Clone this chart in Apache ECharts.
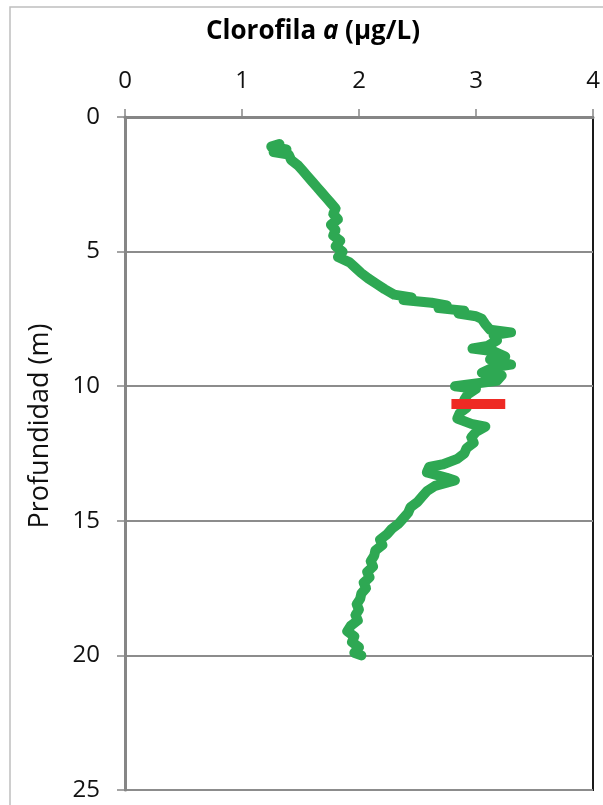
<!DOCTYPE html>
<html>
<head>
<meta charset="utf-8">
<script src="https://cdn.jsdelivr.net/npm/echarts@6/dist/echarts.min.js"></script>
<style>
  html, body { margin: 0; padding: 0; background: #fff; }
  #chart { width: 603px; height: 805px; }
</style>
</head>
<body>
<div id="chart"></div>
<script>
// depth (m) and chlorophyll a (ug/L)
const depth = [
  1.0, 1.1, 1.2, 1.3, 1.4, 1.6, 1.8, 2.0, 2.2, 2.4, 2.6, 2.8, 3.0, 3.2, 3.4, 3.6, 3.8, 4.0,
  4.2, 4.4, 4.6, 4.8, 5.0, 5.2, 5.4, 5.6, 5.8, 6.0, 6.2, 6.4, 6.6, 6.7, 6.8, 6.9, 7.0, 7.1,
  7.2, 7.3, 7.4, 7.5, 7.7, 7.9, 8.0, 8.1, 8.3, 8.5, 8.6, 8.7, 8.9, 9.0, 9.2, 9.3, 9.5, 9.6,
  9.8, 10.0, 10.1, 10.3, 10.5, 10.8, 11.0, 11.2, 11.4, 11.5, 11.7, 11.9, 12.1, 12.3, 12.5,
  12.7, 12.9, 13.0, 13.2, 13.4, 13.5, 13.7, 13.9, 14.1, 14.3, 14.5, 14.7, 14.9, 15.1, 15.3,
  15.5, 15.7, 15.9, 16.1, 16.3, 16.5, 16.7, 16.9, 17.1, 17.3, 17.5, 17.7, 17.9, 18.1, 18.3,
  18.5, 18.7, 18.9, 19.1, 19.3, 19.5, 19.7, 19.9, 20.0
];
const chla = [
  1.32, 1.25, 1.38, 1.27, 1.40, 1.42, 1.48, 1.52, 1.56, 1.60, 1.64, 1.68, 1.72, 1.76, 1.80, 1.78, 1.82, 1.76,
  1.80, 1.78, 1.84, 1.80, 1.86, 1.82, 1.92, 1.97, 2.02, 2.08, 2.15, 2.22, 2.30, 2.45, 2.38, 2.62, 2.75, 2.68,
  2.90, 2.85, 3.00, 3.05, 3.08, 3.12, 3.30, 3.15, 3.18, 3.10, 2.97, 3.15, 3.25, 3.12, 3.30, 3.15, 3.05, 3.22,
  3.18, 2.82, 3.00, 2.93, 2.90, 2.92, 2.86, 2.84, 2.96, 3.08, 3.00, 2.96, 2.98, 2.92, 2.90,
  2.84, 2.72, 2.60, 2.58, 2.75, 2.82, 2.65, 2.58, 2.54, 2.50, 2.44, 2.42, 2.38, 2.34, 2.28,
  2.24, 2.18, 2.20, 2.14, 2.13, 2.10, 2.12, 2.07, 2.09, 2.04, 2.06, 2.02, 2.01, 1.98, 2.00,
  1.97, 1.99, 1.93, 1.90, 1.96, 1.94, 2.00, 1.96, 2.02
];
// red marker: depth and chl range
const markDepth = 10.66;
const markRange = [2.79, 3.25];

const xTicks = [0, 1, 2, 3, 4];
const yTicks = [0, 5, 10, 15, 20, 25];

const profile = depth.map((d, i) => [chla[i], d]);
const marker = markRange.map(v => [v, markDepth]);

const labelFont = { fontFamily: 'Open Sans', fontSize: 24, color: '#111' };

const chart = echarts.init(document.getElementById('chart'));
chart.setOption({
  animation: false,
  title: {
    text: '{a|Clorofila }{b|a}{a| (µg/L)}',
    left: 201,
    top: 14,
    textStyle: {
      rich: {
        a: { fontFamily: 'Open Sans', fontWeight: 'bold', fontSize: 26, color: '#000' },
        b: { fontFamily: 'Open Sans', fontWeight: 'bold', fontStyle: 'italic', fontSize: 26, color: '#000' }
      }
    }
  },
  graphic: [
    {
      type: 'rect',
      shape: { x: 10, y: 7, width: 700, height: 900 },
      style: { fill: null, stroke: '#bfbfbf', lineWidth: 1.5 },
      z: -10
    },
    {
      type: 'text',
      x: 40,
      y: 426,
      rotation: Math.PI / 2,
      style: {
        text: 'Profundidad (m)',
        fontFamily: 'Open Sans',
        fontSize: 27,
        fill: '#111',
        align: 'center',
        verticalAlign: 'middle'
      }
    }
  ],
  grid: {
    left: 125,
    top: 117,
    right: 10,
    bottom: 15,
    show: true,
    borderColor: '#1a1a1a',
    borderWidth: 2,
    backgroundColor: '#fff'
  },
  xAxis: {
    type: 'value',
    position: 'top',
    min: xTicks[0],
    max: xTicks[xTicks.length - 1],
    interval: 1,
    axisLine: { show: true, lineStyle: { color: '#868686', width: 3 } },
    axisTick: { show: true, length: 8, lineStyle: { color: '#868686', width: 1.5 } },
    axisLabel: Object.assign({ margin: 24 }, labelFont),
    splitLine: { show: false }
  },
  yAxis: {
    type: 'value',
    inverse: true,
    min: yTicks[0],
    max: yTicks[yTicks.length - 1],
    interval: 5,
    axisLine: { show: true, lineStyle: { color: '#868686', width: 3 } },
    axisTick: { show: true, length: 8, lineStyle: { color: '#868686', width: 1.5 } },
    axisLabel: Object.assign({ margin: 25 }, labelFont),
    splitLine: { show: true, lineStyle: { color: '#8c8c8c', width: 2 } }
  },
  series: [
    {
      type: 'line',
      data: profile,
      showSymbol: false,
      lineStyle: { color: '#2ea853', width: 10, join: 'round', cap: 'round' }
    },
    {
      type: 'line',
      data: marker,
      showSymbol: false,
      lineStyle: { color: '#ee2a24', width: 10, cap: 'butt' }
    }
  ]
});
</script>
</body>
</html>
